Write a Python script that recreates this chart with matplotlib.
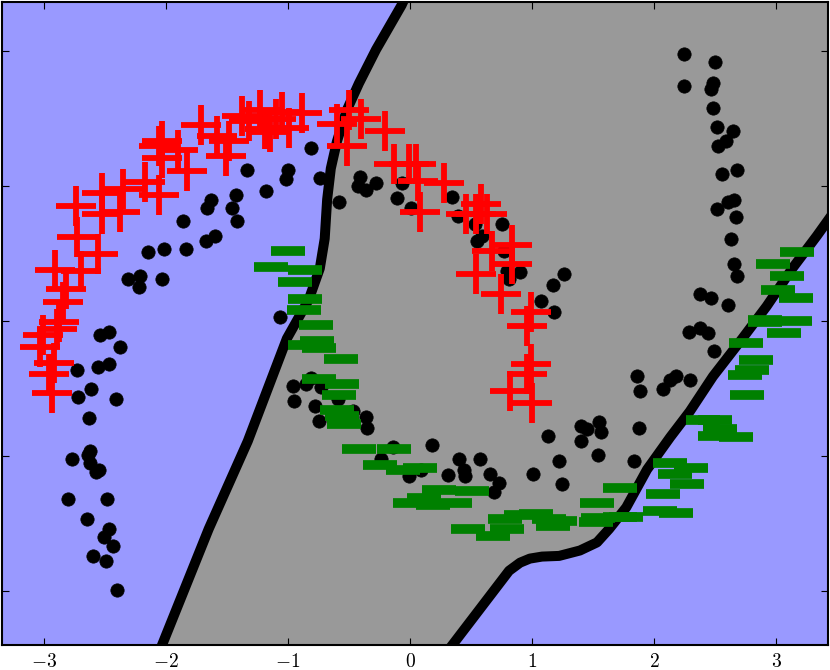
import numpy as np
import matplotlib
matplotlib.use("Agg")
import matplotlib.pyplot as plt

plt.rcParams['mathtext.fontset'] = 'cm'

# unlabeled points
unl = np.array([
    (-2.54, -0.10), (-2.47, -0.08), (-2.38, -0.19), (-2.73, -0.36), (-2.56, -0.34),
    (-2.47, -0.32), (-2.61, -0.50), (-2.72, -0.56), (-2.41, -0.58), (-2.63, -0.72),
    (-2.62, -0.96), (-2.64, -0.99), (-2.77, -1.02), (-2.62, -1.05), (-2.55, -1.10),
    (-2.57, -1.12), (-2.80, -1.32), (-2.48, -1.32), (-2.65, -1.47), (-2.47, -1.54),
    (-2.51, -1.60), (-2.43, -1.67), (-2.60, -1.74), (-2.49, -1.78), (-2.40, -1.99),
    (-1.34, 1.12), (-1.43, 0.93), (-1.63, 0.90), (-1.66, 0.84), (-1.46, 0.84),
    (-1.42, 0.74), (-1.86, 0.74), (-1.60, 0.63), (-1.67, 0.59), (-2.02, 0.53),
    (-2.15, 0.51), (-1.84, 0.53), (-2.31, 0.31), (-2.21, 0.33), (-2.22, 0.25),
    (-2.03, 0.31),
    (-0.81, 1.28), (-1.00, 1.12), (-1.02, 1.05), (-1.18, 0.96), (-0.74, 1.06),
    (-0.58, 0.88), (-0.41, 1.07), (-0.43, 1.00), (-0.36, 0.97), (-0.28, 1.02),
    (-0.11, 0.91), (-0.07, 1.02), (0.01, 0.84), (0.34, 0.92), (0.39, 0.78),
    (0.53, 0.72), (0.59, 0.63), (0.55, 0.59), (0.75, 0.72), (0.77, 0.52),
    (0.79, 0.37), (0.90, 0.36), (0.81, 0.31), (1.26, 0.35), (1.17, 0.27),
    (1.07, 0.15), (1.18, 0.07),
    (2.24, 1.98), (2.50, 1.92), (2.24, 1.74), (2.48, 1.76), (2.46, 1.72),
    (2.48, 1.58), (2.51, 1.44), (2.64, 1.41), (2.59, 1.33), (2.52, 1.30),
    (2.55, 1.09), (2.68, 1.12), (2.65, 0.90), (2.60, 0.88), (2.51, 0.83),
    (2.67, 0.77), (2.63, 0.61), (2.65, 0.42), (2.68, 0.33), (2.37, 0.20),
    (2.46, 0.17), (2.60, 0.12), (2.28, -0.08), (2.37, -0.05), (2.44, -0.09),
    (2.49, -0.22), (1.86, -0.41), (1.88, -0.52), (2.18, -0.41), (2.13, -0.44),
    (2.07, -0.50), (2.29, -0.44),
    (-1.07, 0.03), (-0.81, -0.42), (-0.96, -0.48), (-0.85, -0.47), (-0.73, -0.49),
    (-0.95, -0.59), (-0.78, -0.63), (-0.75, -0.74), (-0.59, -0.58), (-0.47, -0.67),
    (-0.36, -0.71), (-0.35, -0.79), (-0.14, -0.93), (0.18, -0.92), (-0.24, -1.02),
    (-0.01, -1.15), (0.09, -1.10), (0.31, -1.14), (0.40, -1.02), (0.57, -1.02),
    (0.44, -1.10), (0.45, -1.15), (0.65, -1.13), (0.73, -1.20), (0.69, -1.27),
    (1.01, -1.13), (1.13, -0.85), (1.22, -1.04), (1.24, -1.21), (1.40, -0.78),
    (1.45, -0.80), (1.55, -0.75), (1.56, -0.82), (1.40, -0.89), (1.54, -0.99),
    (1.87, -0.79), (1.83, -1.04),
])

# class 1 (red plus)
pos = np.array([
    (-3.01, -0.10), (-3.03, -0.19), (-2.88, -0.01), (-2.89, -0.06), (-2.84, 0.14),
    (-2.82, 0.24), (-2.92, -0.31), (-2.96, -0.39), (-2.93, -0.53), (-2.91, 0.38),
    (-2.70, 0.37), (-2.73, 0.62), (-2.74, 0.85), (-2.56, 0.50), (-2.52, 0.79),
    (-2.38, 0.81), (-2.52, 0.95), (-2.35, 0.98), (-2.17, 1.03), (-2.06, 0.93),
    (-1.83, 1.11), (-2.03, 1.21), (-2.06, 1.30), (-2.03, 1.33), (-1.51, 1.22),
    (-1.48, 1.33), (-1.71, 1.45), (-1.38, 1.52), (-1.90, 1.27), (-1.58, 1.37),
    (-1.23, 1.56), (-1.10, 1.50), (-0.99, 1.43), (-0.89, 1.54), (-1.32, 1.48),
    (-1.19, 1.42), (-0.60, 1.46), (-0.40, 1.50), (-0.52, 1.30), (-0.21, 1.41),
    (-0.50, 1.56), (-1.15, 1.40), (-1.05, 1.55),
    (-0.13, 1.16), (-0.01, 1.16), (0.05, 1.16), (0.06, 1.04), (0.28, 1.02),
    (0.08, 0.81), (0.58, 0.87), (0.46, 0.79), (0.54, 0.79), (0.63, 0.79),
    (0.83, 0.56), (0.67, 0.52), (0.83, 0.42), (0.54, 0.35), (0.74, 0.20),
    (0.99, 0.07), (0.96, -0.04), (0.99, -0.32), (0.96, -0.39), (0.82, -0.52),
    (1.00, -0.61),
])

# class 0 (green minus)
neg = np.array([
    (-1.00, 0.52), (-1.14, 0.40), (-0.86, 0.38), (-0.94, 0.29), (-0.86, 0.16),
    (-0.87, 0.08), (-0.77, -0.03), (-0.76, -0.15), (-0.86, -0.18), (-0.75, -0.20),
    (-0.57, -0.28), (-0.75, -0.43), (-0.56, -0.47), (-0.58, -0.55), (-0.60, -0.66),
    (-0.56, -0.70), (-0.54, -0.76), (-0.42, -0.95), (-0.13, -0.95), (-0.25, -1.07),
    (-0.06, -1.10), (0.08, -1.09), (0.24, -1.25), (0.51, -1.26), (0.11, -1.31),
    (0.00, -1.35), (0.19, -1.36), (0.37, -1.35), (0.47, -1.54), (0.68, -1.59),
    (0.78, -1.47), (0.79, -1.54), (0.91, -1.44), (1.03, -1.43), (1.14, -1.47),
    (1.17, -1.52), (1.23, -1.48), (1.52, -1.49), (1.54, -1.46), (1.72, -1.45),
    (1.77, -1.45), (1.53, -1.35), (1.72, -1.24), (2.07, -1.28), (2.05, -1.41),
    (2.18, -1.42), (2.13, -1.05), (2.30, -1.09), (2.17, -1.13), (2.27, -1.21),
    (2.40, -0.73), (2.50, -0.73), (2.54, -0.80), (2.50, -0.85), (2.67, -0.86),
    (2.75, -0.16), (2.83, -0.29), (2.80, -0.36), (2.74, -0.40), (2.76, -0.55),
    (3.06, -0.09), (3.17, 0.51), (2.97, 0.42), (3.09, 0.33), (3.01, 0.23),
    (3.16, 0.17), (2.91, 0.01), (2.91, -0.01), (3.15, 0.00),
])

# decision boundary (two branches)
left_x = [-2.05, -1.65, -1.33, -1.01, -0.83, -0.74, -0.70, -0.68, -0.65, -0.60, -0.52, -0.42, -0.28, -0.07, -0.04]
left_y = [-2.44, -1.54, -0.89, -0.13, 0.16, 0.39, 0.61, 0.90, 1.13, 1.33, 1.56, 1.76, 2.01, 2.34, 2.40]
right_x = [0.32, 0.81, 0.90, 0.98, 1.08, 1.22, 1.39, 1.53, 1.63, 1.77, 1.94, 2.13, 2.29, 2.48, 2.72, 2.92, 3.13, 3.33, 3.52]
right_y = [-2.43, -1.85, -1.79, -1.76, -1.745, -1.74, -1.70, -1.64, -1.54, -1.38, -1.10, -0.86, -0.67, -0.41, -0.13, 0.11, 0.39, 0.63, 0.87]

xticks = [-3, -2, -1, 0, 1, 2, 3]
yticks = [-2, -1, 0, 1, 2]

fig = plt.figure(figsize=(8.3, 6.7), dpi=100)
ax = fig.add_axes([0.0024, 0.0373, 0.9952, 0.9597])
ax.set_facecolor('#9999ff')

px = left_x + [right_x[-1]] + right_x[::-1]
py = left_y + [left_y[-1]] + right_y[::-1]
ax.fill(px, py, color='#999999', zorder=1, lw=0)
ax.plot(left_x, left_y, color='k', lw=7.2, zorder=2, solid_joinstyle='round')
ax.plot(right_x, right_y, color='k', lw=7.2, zorder=2, solid_joinstyle='round')

ax.plot(unl[:, 0], unl[:, 1], 'o', color='k', ms=9.6, mew=0.5, zorder=3)
ax.plot(pos[:, 0], pos[:, 1], '+', color='r', ms=29, mew=4.2, zorder=4)
ax.plot(neg[:, 0], neg[:, 1], '_', color='g', ms=24, mew=7, zorder=4)

ax.set_xlim(-3.343, 3.422)
ax.set_ylim(-2.40, 2.363)
ax.set_xticks(xticks)
ax.set_xticklabels([r'$%d$' % t if t >= 0 else r'$-%d$' % -t for t in xticks], fontsize=14)
ax.set_yticks(yticks)
ax.set_yticklabels([])
ax.tick_params(direction='in', top=True, right=True, length=5, width=0.8, pad=5)
for s in ax.spines.values():
    s.set_linewidth(1.5)

fig.savefig('out.png', dpi=100)
